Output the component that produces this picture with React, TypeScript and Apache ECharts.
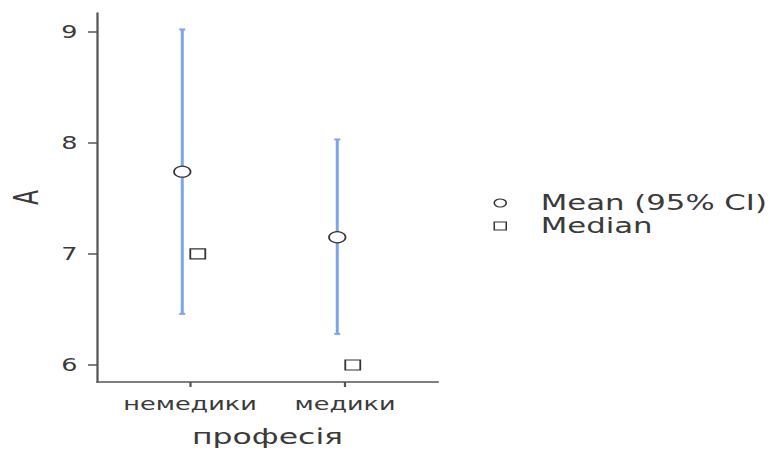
import React, { useEffect, useRef } from "react";
import * as echarts from "echarts";

// Group names on the x axis
const categories = ["немедики", "медики"];
// Mean of A per group with its 95% confidence interval
const means = [7.74, 7.15];
const ciLower = [6.46, 6.28];
const ciUpper = [9.02, 8.03];
// Median of A per group
const medians = [7, 6];
// Y axis tick values
const yTicks = [6, 7, 8, 9];

const seriesNames = ["Mean (95% CI)", "Median"];

const FONT = "DejaVu Sans";
const AXIS_COLOR = "#555";
const TEXT_COLOR = "#3a3a3a";
const CI_COLOR = "#7ba6ee";
const DODGE = 0.05;

// The plot is drawn on a narrow canvas and widened horizontally by CSS.
const BASE_W = 516;
const BASE_H = 452;
const STRETCH = 774 / BASE_W;

export default function App() {
  const ref = useRef<HTMLDivElement>(null);

  useEffect(() => {
    if (!ref.current) return;
    const chart = echarts.init(ref.current, undefined, { renderer: "svg" });

    const ciData = categories.map((_, i) => [i - DODGE, ciLower[i], ciUpper[i]]);
    const meanData = categories.map((_, i) => [i - DODGE, means[i]]);
    const medianData = categories.map((_, i) => [i + DODGE, medians[i]]);

    chart.setOption({
      animation: false,
      textStyle: { fontFamily: FONT },
      grid: { left: 64.7, right: BASE_W - 292, top: 13, bottom: BASE_H - 382 },
      legend: {
        orient: "vertical",
        left: 329,
        top: 191.5,
        padding: 0,
        itemWidth: 8,
        itemHeight: 8,
        itemGap: 0,
        data: [
          { name: seriesNames[0], icon: "circle" },
          { name: seriesNames[1], icon: "rect" },
        ],
        itemStyle: { color: "#fff", borderColor: "#333", borderWidth: 1 },
        textStyle: {
          fontFamily: FONT,
          fontSize: 20.5,
          color: TEXT_COLOR,
          lineHeight: 23,
          padding: [0, 0, 0, 18],
        },
      },
      xAxis: {
        type: "value",
        min: -0.6,
        max: 1.6,
        name: "професія",
        nameLocation: "middle",
        nameGap: 44,
        nameTextStyle: { fontFamily: FONT, fontSize: 21, color: TEXT_COLOR },
        axisLine: { show: true, onZero: false, lineStyle: { color: AXIS_COLOR, width: 1.5 } },
        axisTick: {
          show: true,
          length: 5,
          customValues: categories.map((_, i) => i),
          lineStyle: { color: AXIS_COLOR, width: 1.5 },
        },
        axisLabel: {
          customValues: categories.map((_, i) => i),
          formatter: (v: number) => categories[Math.round(v)] ?? "",
          fontFamily: FONT,
          fontSize: 17,
          color: TEXT_COLOR,
          margin: 14,
        },
        splitLine: { show: false },
      },
      yAxis: {
        type: "value",
        min: 5.847,
        max: 9.168,
        name: "A",
        nameLocation: "middle",
        nameGap: 36,
        nameRotate: 90,
        nameTextStyle: { fontFamily: FONT, fontSize: 22, color: TEXT_COLOR },
        axisLine: { show: true, onZero: false, lineStyle: { color: AXIS_COLOR, width: 1.5 } },
        axisTick: {
          show: true,
          length: 6,
          customValues: yTicks,
          lineStyle: { color: AXIS_COLOR, width: 1.5 },
        },
        axisLabel: {
          customValues: yTicks,
          fontFamily: FONT,
          fontSize: 17,
          color: TEXT_COLOR,
          margin: 13,
        },
        splitLine: { show: false },
      },
      series: [
        {
          type: "custom",
          name: "95% CI",
          data: ciData,
          encode: { x: 0, y: [1, 2] },
          z: 1,
          renderItem: (_params: any, api: any) => {
            const x = api.value(0);
            const lo = api.coord([x, api.value(1)]);
            const hi = api.coord([x, api.value(2)]);
            const cap = 2;
            const style = { stroke: CI_COLOR, lineWidth: 2 };
            return {
              type: "group",
              children: [
                { type: "line", shape: { x1: lo[0], y1: lo[1], x2: hi[0], y2: hi[1] }, style },
                { type: "line", shape: { x1: hi[0] - cap, y1: hi[1], x2: hi[0] + cap, y2: hi[1] }, style },
                { type: "line", shape: { x1: lo[0] - cap, y1: lo[1], x2: lo[0] + cap, y2: lo[1] }, style },
              ],
            };
          },
        },
        {
          type: "scatter",
          name: seriesNames[0],
          data: meanData,
          symbol: "circle",
          symbolSize: 11,
          z: 3,
          itemStyle: { color: "#fff", borderColor: "#333", borderWidth: 1.2, opacity: 1 },
        },
        {
          type: "scatter",
          name: seriesNames[1],
          data: medianData,
          symbol: "rect",
          symbolSize: 10,
          z: 3,
          itemStyle: { color: "#fff", borderColor: "#333", borderWidth: 1.2, opacity: 1 },
        },
      ],
    });

    return () => chart.dispose();
  }, []);

  return (
    <div
      style={{
        position: "absolute",
        left: 0,
        top: 0,
        width: 774,
        height: BASE_H,
        overflow: "hidden",
        background: "#fff",
      }}
    >
      <div
        ref={ref}
        style={{
          width: BASE_W,
          height: BASE_H,
          transform: `scaleX(${STRETCH})`,
          transformOrigin: "0 0",
        }}
      />
    </div>
  );
}
